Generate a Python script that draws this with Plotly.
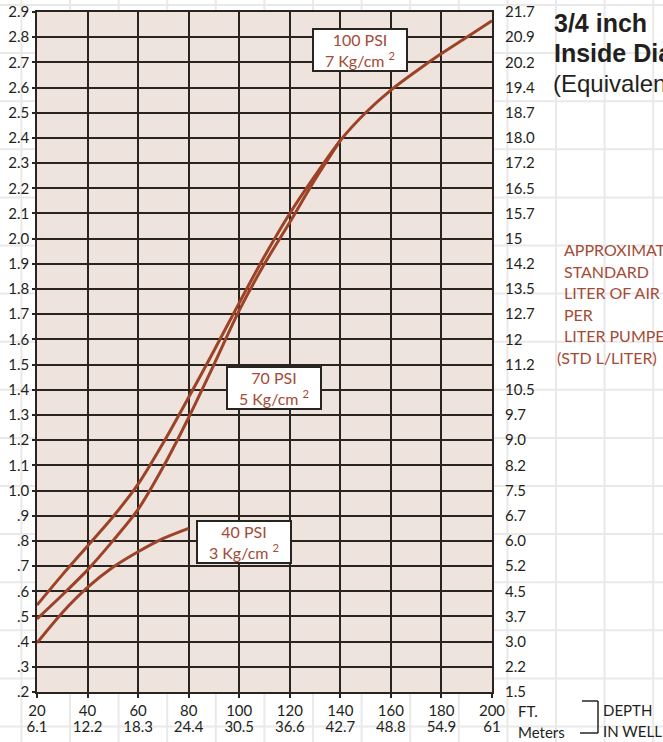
import plotly.graph_objects as go

# ---------------- data ----------------
depth_ft_100 = [20, 30, 40, 50, 60, 70, 80, 90, 100, 110, 120, 130, 140, 150, 160, 170, 180, 190, 200]
ratio_100psi = [0.545, 0.665, 0.78, 0.895, 1.025, 1.19, 1.37, 1.555, 1.745, 1.93, 2.10, 2.25, 2.39,
                2.50, 2.59, 2.665, 2.735, 2.80, 2.865]

depth_ft_70 = [20, 30, 40, 50, 60, 70, 80, 90, 100, 110, 120, 130, 140]
ratio_70psi = [0.49, 0.585, 0.685, 0.80, 0.925, 1.095, 1.29, 1.50, 1.715, 1.90, 2.065, 2.235, 2.39]

depth_ft_40 = [20, 30, 40, 50, 60, 70, 80]
ratio_40psi = [0.395, 0.515, 0.615, 0.695, 0.757, 0.81, 0.85]

x_tick_ft = [20, 40, 60, 80, 100, 120, 140, 160, 180, 200]
x_tick_ft_text = ["20", "40", "60", "80", "100", "120", "140", "160", "180", "200"]
x_tick_m_text = ["6.1", "12.2", "18.3", "24.4", "30.5", "36.6", "42.7", "48.8", "54.9", "61"]

y_ticks = [0.2, 0.3, 0.4, 0.5, 0.6, 0.7, 0.8, 0.9, 1.0, 1.1, 1.2, 1.3, 1.4, 1.5,
           1.6, 1.7, 1.8, 1.9, 2.0, 2.1, 2.2, 2.3, 2.4, 2.5, 2.6, 2.7, 2.8, 2.9]
y_left_text = [".2", ".3", ".4", ".5", ".6", ".7", ".8", ".9", "1.0", "1.1", "1.2", "1.3", "1.4", "1.5",
               "1.6", "1.7", "1.8", "1.9", "2.0", "2.1", "2.2", "2.3", "2.4", "2.5", "2.6", "2.7", "2.8", "2.9"]
y_right_text = ["1.5", "2.2", "3.0", "3.7", "4.5", "5.2", "6.0", "6.7", "7.5", "8.2", "9.0", "9.7", "10.5", "11.2",
                "12", "12.7", "13.5", "14.2", "15", "15.7", "16.5", "17.2", "18.0", "18.7", "19.4", "20.2", "20.9", "21.7"]

# ---------------- style ----------------
W, H = 663, 742
ML, MR, MT, MB = 37, 171, 12, 50
PW, PH = W - ML - MR, H - MT - MB

CURVE = "#9c4327"
TXT_RED = "#a44b35"
DARK = "#2a2421"
FILL = "#eee3dd"
FONT = "Lato, Open Sans, sans-serif"


def px_x(px):
    return (px - ML) / PW


def px_y(py):
    return (H - MB - py) / PH


fig = go.Figure()

for xs, ys in [(depth_ft_100, ratio_100psi), (depth_ft_70, ratio_70psi), (depth_ft_40, ratio_40psi)]:
    fig.add_trace(go.Scatter(x=xs, y=ys, mode="lines",
                             line=dict(color=CURVE, width=3, shape="spline", smoothing=0.8),
                             showlegend=False, hoverinfo="skip"))

# helper traces so secondary axes render
fig.add_trace(go.Scatter(x=[20, 200], y=[None, None], xaxis="x2", yaxis="y",
                         showlegend=False, hoverinfo="skip"))
fig.add_trace(go.Scatter(x=[20, 200], y=[None, None], xaxis="x", yaxis="y2",
                         showlegend=False, hoverinfo="skip"))

shapes = []
# faint page grid
faint = "#e9e9e9"
k = 0
while 21.4 + 48.6 * k < W:
    px = 21.4 + 48.6 * k
    shapes.append(dict(type="line", xref="paper", yref="paper", layer="below",
                       x0=px_x(px), x1=px_x(px), y0=px_y(H), y1=px_y(0),
                       line=dict(color=faint, width=2)))
    k += 1
k = 0
while 5 + 48.1 * k < H:
    py = 5 + 48.1 * k
    shapes.append(dict(type="line", xref="paper", yref="paper", layer="below",
                       x0=px_x(0), x1=px_x(W), y0=px_y(py), y1=px_y(py),
                       line=dict(color=faint, width=2)))
    k += 1
# plot fill
shapes.append(dict(type="rect", xref="paper", yref="paper", layer="below",
                   x0=0, x1=1, y0=0, y1=1, fillcolor=FILL, line=dict(width=0)))
# bracket for DEPTH IN WELL
for (a, b, c, d) in [(582, 701, 598, 701), (598, 701, 598, 733), (580, 733, 598, 733)]:
    shapes.append(dict(type="line", xref="paper", yref="paper",
                       x0=px_x(a), y0=px_y(b), x1=px_x(c), y1=px_y(d),
                       line=dict(color=DARK, width=1.5)))

annotations = []
# PSI boxes
for x, y, l1, l2 in [(147.6, 2.749, "100 PSI", "7 Kg/cm <sup>2</sup>"),
                     (113.7, 1.409, "70 PSI", "5 Kg/cm <sup>2</sup>"),
                     (102.0, 0.796, "40 PSI", "3 Kg/cm <sup>2</sup>")]:
    annotations.append(dict(x=x, y=y, xref="x", yref="y", showarrow=False,
                            text=l1 + "<br>" + l2, align="center",
                            font=dict(family=FONT, size=16, color=TXT_RED),
                            bgcolor="white", bordercolor=DARK, borderwidth=2,
                            width=92, height=40, borderpad=0))

# titles at right
title_font = "Liberation Sans, Arial, sans-serif"
annotations.append(dict(x=px_x(552), y=px_y(23), xref="paper", yref="paper", xanchor="left",
                        yanchor="middle", showarrow=False, text="<b>3/4 inch</b>",
                        font=dict(family=title_font, size=25, color="#231f20")))
annotations.append(dict(x=px_x(552), y=px_y(53), xref="paper", yref="paper", xanchor="left",
                        yanchor="middle", showarrow=False, text="<b>Inside Diameter</b>",
                        font=dict(family=title_font, size=25, color="#231f20")))
annotations.append(dict(x=px_x(551), y=px_y(84), xref="paper", yref="paper", xanchor="left",
                        yanchor="middle", showarrow=False, text="(Equivalent to 19 mm)",
                        font=dict(family=title_font, size=24, color="#231f20")))

# right label block
for i, t in enumerate(["APPROXIMATE", "STANDARD", "LITER OF AIR", "PER", "LITER PUMPED"]):
    annotations.append(dict(x=px_x(562), y=px_y(250 + 21.4 * i), xref="paper", yref="paper",
                            xanchor="left", yanchor="middle", showarrow=False, text=t,
                            font=dict(family=FONT, size=16, color=TXT_RED)))
annotations.append(dict(x=px_x(555), y=px_y(357), xref="paper", yref="paper",
                        xanchor="left", yanchor="middle", showarrow=False, text="(STD L/LITER)",
                        font=dict(family=FONT, size=16, color=TXT_RED)))

# axis unit labels
for t, xx, yy in [("FT.", 516, 711), ("Meters", 516, 732), ("DEPTH", 601, 710), ("IN WELL", 601, 731)]:
    annotations.append(dict(x=px_x(xx), y=px_y(yy), xref="paper", yref="paper",
                            xanchor="left", yanchor="middle", showarrow=False, text=t,
                            font=dict(family=FONT, size=15, color="#231f20")))

axis_font = dict(family=FONT, size=15, color="#231f20")

fig.update_layout(
    template="none",
    width=W, height=H,
    margin=dict(l=ML, r=MR, t=MT, b=MB, pad=0, autoexpand=False),
    paper_bgcolor="white", plot_bgcolor="rgba(0,0,0,0)",
    showlegend=False,
    xaxis=dict(range=[20, 200], tickvals=x_tick_ft, ticktext=x_tick_ft_text,
               showgrid=True, gridcolor=DARK, gridwidth=1.5, zeroline=False,
               showline=True, linecolor=DARK, linewidth=1.5, mirror=True,
               ticks="outside", ticklen=4, tickcolor=DARK, tickwidth=1.5,
               tickfont=axis_font, automargin=False),
    xaxis2=dict(range=[20, 200], overlaying="x", side="bottom", anchor="y",
                tickvals=x_tick_ft, ticktext=x_tick_m_text, showgrid=False, zeroline=False,
                showline=False, ticks="", ticklabelstandoff=24, tickfont=axis_font,
                automargin=False),
    yaxis=dict(range=[0.2, 2.9], tickvals=y_ticks, ticktext=y_left_text,
               showgrid=True, gridcolor=DARK, gridwidth=1.5, zeroline=False,
               showline=True, linecolor=DARK, linewidth=1.5, mirror=True,
               ticks="outside", ticklen=3, tickcolor=DARK, tickwidth=1.5,
               tickfont=axis_font, automargin=False),
    yaxis2=dict(range=[0.2, 2.9], overlaying="y", side="right", anchor="x",
                tickvals=y_ticks, ticktext=y_right_text, showgrid=False, zeroline=False,
                showline=False, ticks="", ticklabelstandoff=12, tickfont=axis_font,
                automargin=False),
    shapes=shapes,
    annotations=annotations,
)

fig.write_html("out.html", config={"displayModeBar": False},
               post_script="document.body.style.margin='0';")
